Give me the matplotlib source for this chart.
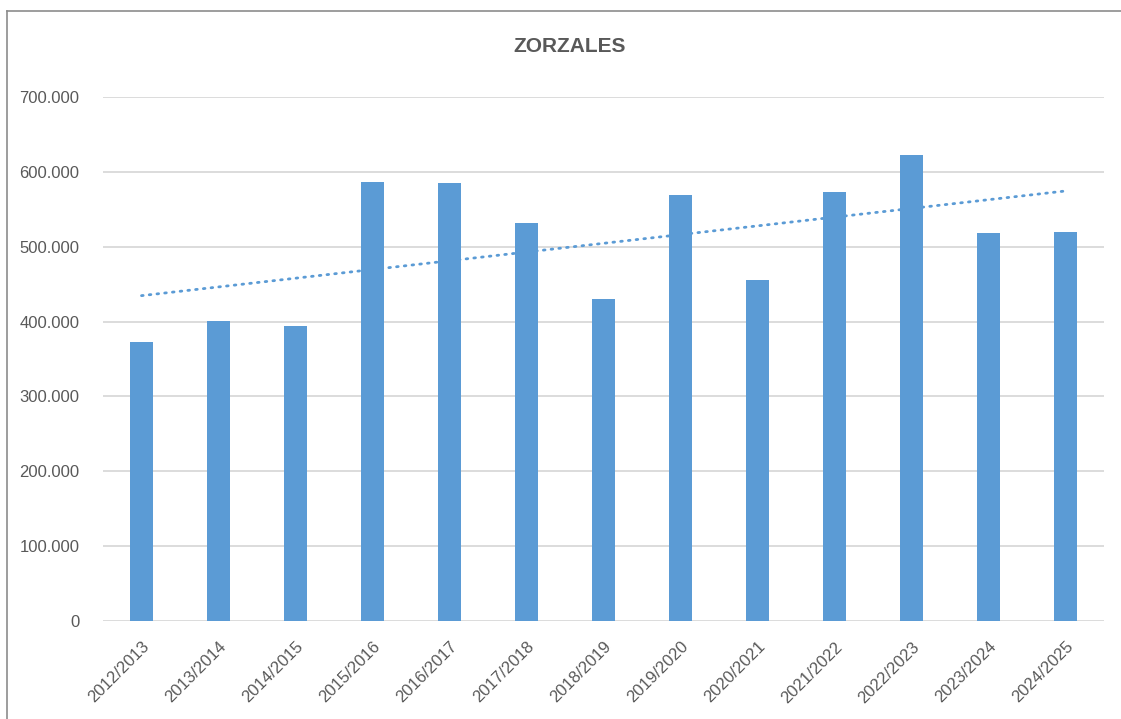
import matplotlib.pyplot as plt
from matplotlib.lines import Line2D
import numpy as np

seasons = ['2012/2013', '2013/2014', '2014/2015', '2015/2016', '2016/2017',
           '2017/2018', '2018/2019', '2019/2020', '2020/2021', '2021/2022',
           '2022/2023', '2023/2024', '2024/2025']
catches = [372700, 400800, 394100, 586400, 585100, 531700, 430100,
           569100, 455500, 573100, 622500, 518300, 519600]
yticks = [0, 100000, 200000, 300000, 400000, 500000, 600000, 700000]
ytick_labels = ['0', '100.000', '200.000', '300.000', '400.000',
                '500.000', '600.000', '700.000']

plt.rcParams['font.family'] = ['Liberation Sans', 'DejaVu Sans']
blue = '#5B9BD5'
text_col = '#595959'

fig = plt.figure(figsize=(11.21, 7.19), dpi=100)
ax = fig.add_axes([103/1121, 1 - 621/719, (1104 - 103)/1121, (621 - 97)/719])

x = np.arange(len(seasons))
ax.bar(x, catches, width=0.31, color=blue, zorder=3)

# linear trend line
slope, intercept = np.polyfit(x, catches, 1)
ax.plot(x, slope * x + intercept, color=blue, lw=2.0, ls=(0, (0.6, 2.2)),
        dash_capstyle='round', zorder=4)

ax.set_xlim(-0.5, len(seasons) - 0.5)
ax.set_ylim(0, 700000)
ax.set_yticks(yticks)
ax.set_yticklabels(ytick_labels, fontsize=12, color=text_col)
ax.set_xticks(x)
ax.set_xticklabels(seasons, rotation=45, ha='right', rotation_mode='anchor',
                   fontsize=12, color=text_col)
ax.tick_params(length=0)
ax.tick_params(axis='y', pad=17)
ax.tick_params(axis='x', pad=13)
ax.grid(axis='y', color='#D9D9D9', lw=1.3, zorder=0)
for s in ax.spines.values():
    s.set_visible(False)

fig.text(570/1121, 1 - 47/719, 'ZORZALES', ha='center', va='center',
         fontsize=15, fontweight='bold', color=text_col)

# outer chart frame (only left and top edges are visible)
x0, y0 = 7/1121, 1 - 11/719
fig.add_artist(Line2D([x0, x0], [0, y0], transform=fig.transFigure,
                      color='#8C8C8C', lw=1.2))
fig.add_artist(Line2D([x0, 1], [y0, y0], transform=fig.transFigure,
                      color='#8C8C8C', lw=1.2))

fig.savefig('out.png', dpi=100)
